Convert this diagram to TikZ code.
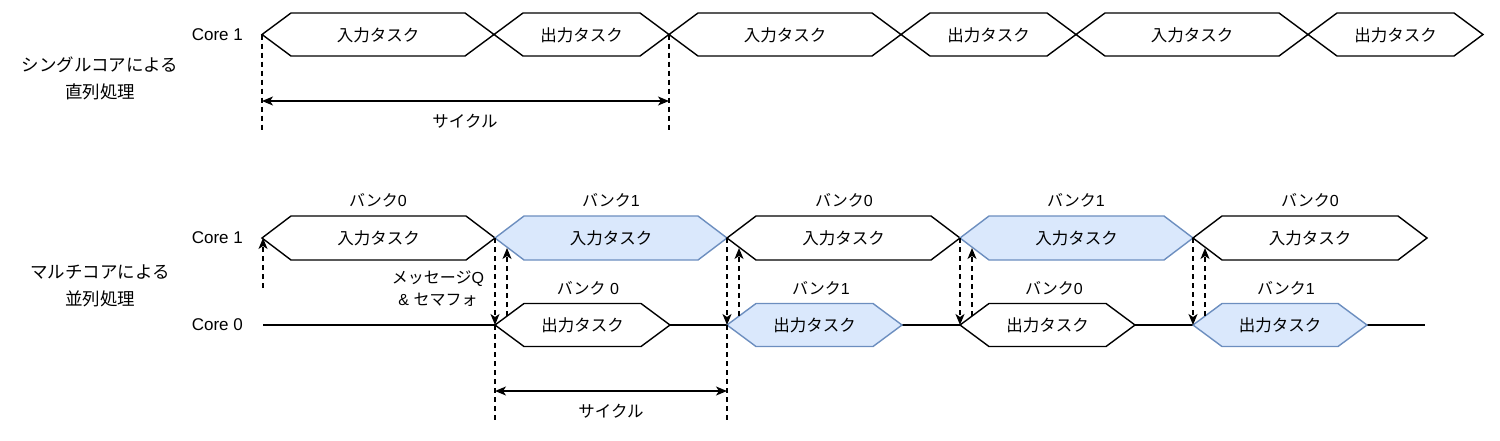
\documentclass[tikz,border=0pt]{standalone}
\usepackage{fontspec}
\setmainfont{Liberation Sans}
\newfontfamily\cjk{Noto Sans CJK JP}
\usetikzlibrary{arrows.meta}
\definecolor{bfill}{HTML}{DAE8FC}
\definecolor{bdraw}{HTML}{6C8EBF}
\newcommand\hexpath[5]{%
  \draw[#5] ({#1},{#3}) -- ({#1+29},{#3-#4}) -- ({#2-29},{#3-#4}) -- ({#2},{#3}) -- ({#2-29},{#3+#4}) -- ({#1+29},{#3+#4}) -- cycle;}
\tikzset{
  hexw/.style={draw=black, fill=white, line width=1.4pt},
  hexb/.style={draw=bdraw, fill=bfill, line width=1.4pt},
  lbl/.style={font=\fontsize{17}{20}\selectfont, inner sep=0pt},
  jlbl/.style={font=\fontsize{16.5}{20}\selectfont\cjk, inner sep=0pt},
  blbl/.style={font=\fontsize{16}{20}\selectfont, inner sep=0pt},
  side/.style={font=\fontsize{17.5}{27}\selectfont\cjk, align=center, inner sep=0pt},
  dsh/.style={dash pattern=on 5pt off 4pt, line width=1.4pt},
  arr/.style={-{Stealth[length=11pt,width=9pt,inset=3pt]}},
  darr/.style={{Stealth[length=11pt,width=9pt,inset=3pt]}-{Stealth[length=11pt,width=9pt,inset=3pt]}},
  solid line/.style={line width=1.4pt}
}
\begin{document}
\begin{tikzpicture}[x=1pt,y=-1pt]
\useasboundingbox (0,0) rectangle (1500,440);

% ---------- single core ----------
\node[side] (single) at (100,78.5) {シングルコアによる\\直列処理};
\node[lbl, anchor=east] (c1a) at (243,35) {Core 1};

\hexpath{262}{494}{34.5}{21.5}{hexw}
\hexpath{494}{669}{34.5}{21.5}{hexw}
\hexpath{669}{901}{34.5}{21.5}{hexw}
\hexpath{901}{1076}{34.5}{21.5}{hexw}
\hexpath{1076}{1308}{34.5}{21.5}{hexw}
\hexpath{1308}{1483}{34.5}{21.5}{hexw}

\node[jlbl] (t1) at (378,35) {入力タスク};
\node[jlbl] (t2) at (581.5,35) {出力タスク};
\node[jlbl] (t3) at (785,35) {入力タスク};
\node[jlbl] (t4) at (988.5,35) {出力タスク};
\node[jlbl] (t5) at (1192,35) {入力タスク};
\node[jlbl] (t6) at (1395.5,35) {出力タスク};

\coordinate (sa) at (262,34.5);
\coordinate (sb) at (669,34.5);
\coordinate (sa2) at (262,130);
\coordinate (sb2) at (669,130);
\coordinate (sam) at (262,101);
\coordinate (sbm) at (669,101);
\draw[dsh] (sa) -- (sa2);
\draw[dsh] (sb) -- (sb2);
\draw[solid line, darr] (sam) -- (sbm);
\node[jlbl] (cyc1) at (465,121) {サイクル};

% ---------- multi core ----------
\node[side] (multi) at (100,285.5) {マルチコアによる\\並列処理};
\node[lbl, anchor=east] (c1b) at (243,238) {Core 1};
\node[lbl, anchor=east] (c0b) at (243,325) {Core 0};

\coordinate (l0) at (263,325);
\coordinate (l1) at (1425,325);
\draw[solid line] (l0) -- (l1);

\hexpath{262}{495}{238}{22}{hexw}
\hexpath{495}{727}{238}{22}{hexb}
\hexpath{727}{960}{238}{22}{hexw}
\hexpath{960}{1193}{238}{22}{hexb}
\hexpath{1193}{1427}{238}{22}{hexw}

\hexpath{495}{670}{325}{21.5}{hexw}
\hexpath{727}{902}{325}{21.5}{hexb}
\hexpath{960}{1135}{325}{21.5}{hexw}
\hexpath{1193}{1367}{325}{21.5}{hexb}

\node[jlbl] (u1) at (378.5,238) {入力タスク};
\node[jlbl] (u2) at (611,238) {入力タスク};
\node[jlbl] (u3) at (843.5,238) {入力タスク};
\node[jlbl] (u4) at (1076.5,238) {入力タスク};
\node[jlbl] (u5) at (1310,238) {入力タスク};

\node[jlbl] (v1) at (582.5,325) {出力タスク};
\node[jlbl] (v2) at (814.5,325) {出力タスク};
\node[jlbl] (v3) at (1047.5,325) {出力タスク};
\node[jlbl] (v4) at (1280,325) {出力タスク};

\node[blbl] (b1) at (378,200) {{\cjk バンク}0};
\node[blbl] (b2) at (611,200) {{\cjk バンク}1};
\node[blbl] (b3) at (844,200) {{\cjk バンク}0};
\node[blbl] (b4) at (1076,200) {{\cjk バンク}1};
\node[blbl] (b5) at (1310,200) {{\cjk バンク}0};

\node[blbl] (d1) at (588,288) {{\cjk バンク} 0};
\node[blbl] (d2) at (821,288) {{\cjk バンク}1};
\node[blbl] (d3) at (1054,288) {{\cjk バンク}0};
\node[blbl] (d4) at (1286,288) {{\cjk バンク}1};

\node[blbl, align=center, font=\fontsize{16}{22}\selectfont] (msg) at (438,289) {{\cjk メッセージ}Q\\\& {\cjk セマフォ}};

% left start arrow
\coordinate (st0) at (263,288);
\coordinate (st1) at (263,238);
\draw[dsh, arr] (st0) -- (st1);

% handoff arrows
\foreach \c [count=\i] in {495,727,960,1193}{
  \coordinate (x\i) at (\c,238);
  \coordinate (y\i) at (\c,325);
  \coordinate (p\i) at ({\c+12},316);
  \coordinate (q\i) at ({\c+12},248);
  \draw[dsh, arr] (x\i) -- (y\i);
  \draw[dsh, arr] (p\i) -- (q\i);
}

% bottom cycle
\coordinate (ca2) at (495,420);
\coordinate (cb2) at (727,420);
\coordinate (cam) at (495,391);
\coordinate (cbm) at (727,391);
\draw[dsh] (y1) -- (ca2);
\draw[dsh] (y2) -- (cb2);
\draw[solid line, darr] (cam) -- (cbm);
\node[jlbl] (cyc2) at (611,411) {サイクル};
\end{tikzpicture}
\end{document}
